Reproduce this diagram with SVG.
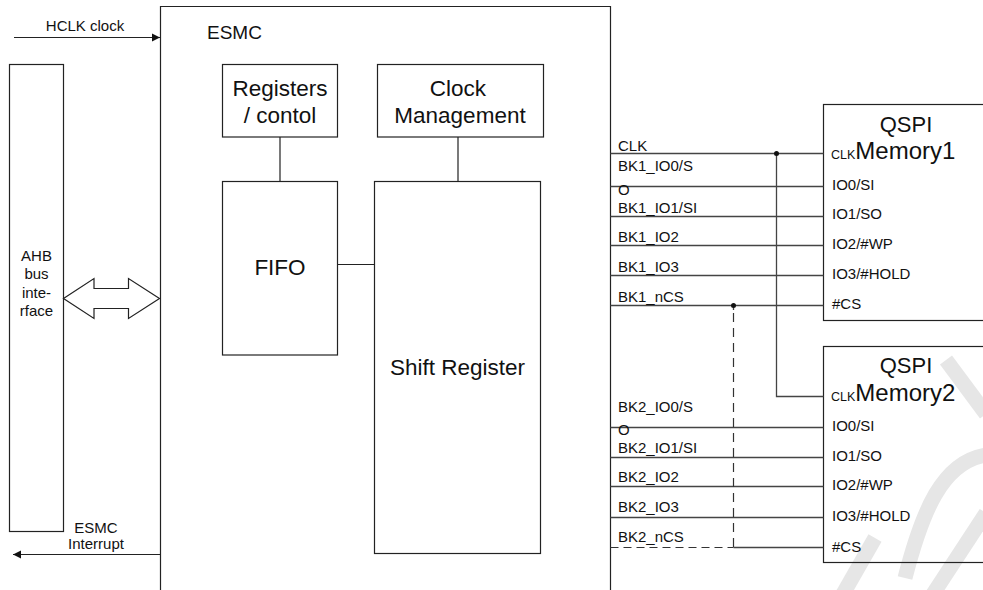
<svg xmlns="http://www.w3.org/2000/svg" width="983" height="590" viewBox="0 0 983 590">
<style>
text{font-family:"Liberation Sans",Arial,sans-serif;fill:#111}
.box{fill:none;stroke:#222;stroke-width:1.2}
.big{font-size:22.5px}
.sm{font-size:15px}
.c{text-anchor:middle}
.ln{stroke:#444;stroke-width:1.3;fill:none}
.dash{stroke:#333;stroke-width:1.2;fill:none;stroke-dasharray:9 6}
.wm{stroke:#e6e6e6;stroke-width:15;fill:none}
.clk{font-size:12.5px}
.mem{font-size:24px}
</style>
<defs>
<marker id="ah" viewBox="0 0 10 10" refX="10" refY="5" markerWidth="8" markerHeight="9" markerUnits="userSpaceOnUse" orient="auto"><path d="M0,0 L10,5 L0,10 z" fill="#111"/></marker>
</defs>
<rect width="983" height="590" fill="#fff"/>
<g id="watermark">
<path class="wm" d="M843,594 L875,538"/>
<path class="wm" d="M933,594 L986,513"/>
<path class="wm" d="M905,578 C922,512 942,462 986,455"/>
<path class="wm" d="M946,360 L986,414"/>
</g>
<g id="esmc">
<path class="box" d="M160.5,592 V6.5 H610.5 V592"/>
<text x="207" y="39" style="font-size:19px">ESMC</text>
</g>
<g id="registers">
<rect class="box" x="222.5" y="64.5" width="115" height="72.5"/>
<text class="big c" x="280" y="96">Registers</text>
<text class="big c" x="280" y="122.7">/ contol</text>
</g>
<g id="clock-management">
<rect class="box" x="377.5" y="64.5" width="166" height="72.5"/>
<text class="big c" x="458" y="96">Clock</text>
<text class="big c" x="460" y="122.7">Management</text>
</g>
<g id="fifo">
<rect class="box" x="222.5" y="181.5" width="115" height="173.5"/>
<text class="big c" x="280" y="275">FIFO</text>
</g>
<g id="shift-register">
<rect class="box" x="374.5" y="181.5" width="166" height="372"/>
<text class="big c" x="457.5" y="375">Shift Register</text>
</g>
<g id="ahb">
<rect class="box" x="9.5" y="64.5" width="54" height="467"/>
<text class="sm c" x="36.5" y="261">AHB</text>
<text class="sm c" x="36.5" y="279">bus</text>
<text class="sm c" x="36.5" y="297.5">inte-</text>
<text class="sm c" x="36.5" y="316">rface</text>
</g>
<g id="qspi1">
<rect class="box" x="823.5" y="104.5" width="170" height="216"/>
<text class="c" x="906" y="131.7" style="font-size:22px">QSPI</text>
<text x="831" y="159.3"><tspan class="clk">CLK</tspan><tspan class="mem">Memory1</tspan></text>
<text class="sm" x="832" y="190">IO0/SI</text>
<text class="sm" x="832" y="219.3">IO1/SO</text>
<text class="sm" x="832" y="249">IO2/#WP</text>
<text class="sm" x="832" y="279">IO3/#HOLD</text>
<text class="sm" x="832" y="309">#CS</text>
</g>
<g id="qspi2">
<rect class="box" x="823.5" y="346.5" width="170" height="216"/>
<text class="c" x="906" y="373" style="font-size:22px">QSPI</text>
<text x="831" y="400.5"><tspan class="clk">CLK</tspan><tspan class="mem">Memory2</tspan></text>
<text class="sm" x="832" y="430.7">IO0/SI</text>
<text class="sm" x="832" y="460.7">IO1/SO</text>
<text class="sm" x="832" y="490">IO2/#WP</text>
<text class="sm" x="832" y="521">IO3/#HOLD</text>
<text class="sm" x="832" y="552.3">#CS</text>
</g>
<g id="connectors">
<path class="box" d="M14,37.5 H160" marker-end="url(#ah)"/>
<text class="sm c" x="85" y="30.5">HCLK clock</text>
<path class="box" d="M160,554.5 H13" marker-end="url(#ah)"/>
<text class="sm c" x="96" y="533.3">ESMC</text>
<text class="sm c" x="96" y="549">Interrupt</text>
<polygon class="box" style="fill:#fff" points="63.5,298.5 94,278.5 94,288.5 128.5,288.5 128.5,278.5 159.5,298.5 128.5,318.5 128.5,308.5 94,308.5 94,318.5"/>
<path class="box" d="M280,137 V181.5 M458,137 V181.5 M337.5,264.5 H374.5"/>
<path class="ln" d="M610.5,153.5 H823.5 M610.5,186.5 H823.5 M610.5,216.5 H823.5 M610.5,245.5 H823.5 M610.5,275.5 H823.5 M610.5,305.5 H823.5"/>
<path class="ln" d="M610.5,427.5 H823.5 M610.5,457.5 H823.5 M610.5,486.5 H823.5 M610.5,517.5 H823.5 M733.5,547.5 H823.5"/>
<path class="dash" d="M610.5,547.5 H733.5" style="stroke-dasharray:8 5"/>
<path class="ln" d="M776.5,153.5 V396.5 H823.5"/>
<path class="ln" d="M733.5,305.5 V310"/>
<path class="dash" d="M733.5,313 V547.5"/>
<circle cx="776.5" cy="153.5" r="2.5" fill="#111"/>
<circle cx="733.5" cy="305.5" r="2.5" fill="#111"/>
<text class="sm" x="618" y="151">CLK</text>
<text class="sm" x="618" y="171">BK1_IO0/S</text>
<text class="sm" x="618" y="194.5">O</text>
<text class="sm" x="618" y="213.3">BK1_IO1/SI</text>
<text class="sm" x="618" y="241.7">BK1_IO2</text>
<text class="sm" x="618" y="271.7">BK1_IO3</text>
<text class="sm" x="618" y="301.7">BK1_nCS</text>
<text class="sm" x="618" y="411.7">BK2_IO0/S</text>
<text class="sm" x="618" y="435">O</text>
<text class="sm" x="618" y="453.3">BK2_IO1/SI</text>
<text class="sm" x="618" y="482.3">BK2_IO2</text>
<text class="sm" x="618" y="512.3">BK2_IO3</text>
<text class="sm" x="618" y="542.3">BK2_nCS</text>
</g>
</svg>
